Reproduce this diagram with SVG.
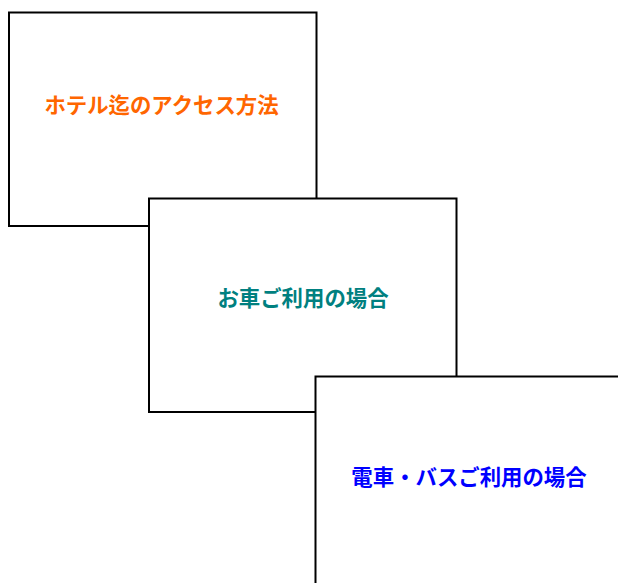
<svg xmlns="http://www.w3.org/2000/svg" width="618" height="583" viewBox="0 0 618 583">
<style>
.box{fill:#fff;stroke:#000;stroke-width:2}
.t{font-family:"Noto Sans CJK JP","Noto Sans",sans-serif;font-size:21.4px;font-weight:bold;text-anchor:middle}
</style>
<rect width="618" height="583" fill="#fff"/>
<g id="connectors"></g>
<g id="node-hotel">
<rect class="box" x="9" y="12.5" width="307.5" height="213.5"/>
<text class="t" x="161.5" y="113" fill="#FF6600">ホテル迄のアクセス方法</text>
</g>
<g id="node-car">
<rect class="box" x="149" y="198.5" width="307.5" height="213.5"/>
<text class="t" x="303" y="306" fill="#008080">お車ご利用の場合</text>
</g>
<g id="node-train">
<rect class="box" x="315.5" y="376.5" width="307.5" height="213.5"/>
<text class="t" x="469" y="484.5" fill="#0000FF">電車・バスご利用の場合</text>
</g>
</svg>
